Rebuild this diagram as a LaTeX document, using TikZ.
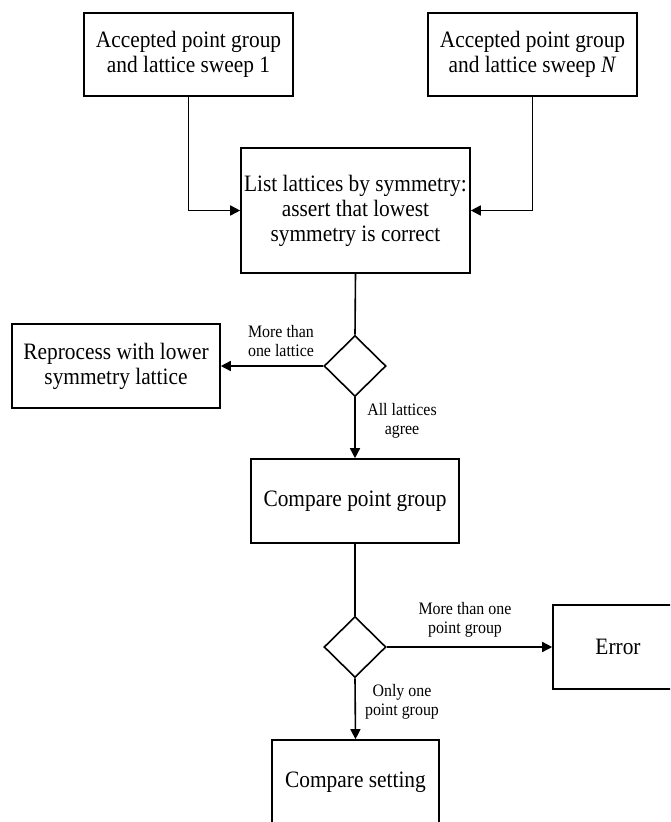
\documentclass[tikz,border=0pt]{standalone}
\usepackage{fontspec}
\setmainfont{Liberation Serif}[FakeStretch=0.91]
\usetikzlibrary{shapes.geometric,arrows.meta}
\begin{document}
\begin{tikzpicture}[x=1pt,y=-1pt,
  box/.style={draw,line width=1.6pt,align=center,inner sep=0pt,font=\fontsize{23.5}{25}\selectfont},
  dec/.style={draw,diamond,line width=1.6pt,minimum width=62pt,minimum height=61pt,inner sep=0pt},
  lbl/.style={align=center,inner sep=0pt,font=\fontsize{17.5}{19.5}\selectfont},
  arr/.style={line width=1.6pt,-{Triangle[length=10pt,width=10pt]}},
  ln/.style={line width=1.6pt}]
\useasboundingbox (0,0) rectangle (670,822);
\clip (0,0) rectangle (670,822);
\node[box,minimum width=209pt,minimum height=83pt] (b1) at (188.5,54.5) {Accepted point group\\and lattice sweep 1};
\node[box,minimum width=209pt,minimum height=83pt] (bN) at (532.5,54.5) {Accepted point group\\and lattice sweep \textit{N}};
\node[box,minimum width=229pt,minimum height=125pt] (list) at (355.5,210.5) {List lattices by symmetry:\\assert that lowest\\symmetry is correct};
\node[dec] (d1) at (355,366) {};
\node[box,minimum width=208pt,minimum height=84pt] (rep) at (116,366) {Reprocess with lower\\symmetry lattice};
\node[box,minimum width=208pt,minimum height=84pt] (cpg) at (355,501) {Compare point group};
\node[dec] (d2) at (355,647) {};
\node[box,minimum width=130pt,minimum height=84pt] (err) at (618,647) {Error};
\node[box,minimum width=167pt,minimum height=84pt] (cs) at (355.5,782) {Compare setting};
\node[lbl] (l1) at (281,341) {More than\\one lattice};
\node[lbl] (l2) at (402,421) {All lattices\\agree};
\node[lbl] (l3) at (465,620) {More than one\\point group};
\node[lbl] (l4) at (402,702) {Only one\\point group};
\draw[arr] (b1.south) |- (list.west);
\draw[arr] (bN.south) |- (list.east);
\draw[ln] (list.south) -- (d1.north);
\draw[arr] (d1.west) -- (rep.east);
\draw[arr] (d1.south) -- (cpg.north);
\draw[ln] (cpg.south) -- (d2.north);
\draw[arr] (d2.east) -- (err.west);
\draw[arr] (d2.south) -- (cs.north);
\end{tikzpicture}
\end{document}
